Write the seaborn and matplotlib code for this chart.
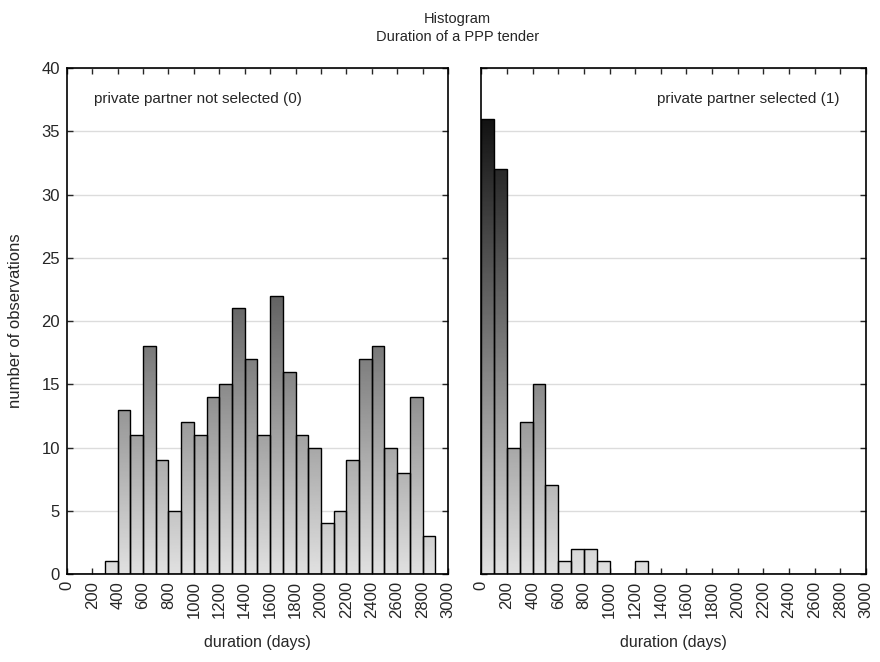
import numpy as np
import pandas as pd
import matplotlib
matplotlib.use("Agg")
import matplotlib.pyplot as plt
import seaborn as sns

# bin edges (days) and counts
bin_edges = list(range(0, 3100, 100))
bin_centers = [e + 50 for e in bin_edges[:-1]]
counts_not_selected = [0, 0, 0, 1, 13, 11, 18, 9, 5, 12, 11, 14, 15, 21, 17,
                       11, 22, 16, 11, 10, 4, 5, 9, 17, 18, 10, 8, 14, 3, 0]
counts_selected = [36, 32, 10, 12, 15, 7, 1, 2, 2, 1, 0, 0, 1, 0, 0,
                   0, 0, 0, 0, 0, 0, 0, 0, 0, 0, 0, 0, 0, 0, 0]
panel_labels = ["private partner not selected (0)", "private partner selected (1)"]
x_ticks = np.arange(0, 3001, 200)
y_ticks = np.arange(0, 41, 5)

sns.set_style("ticks")
plt.rcParams['font.family'] = ['Liberation Sans', 'DejaVu Sans']

fig = plt.figure(figsize=(8.8, 6.62), dpi=100)
ax_left = fig.add_axes([0.076, 0.133, 0.433, 0.764])
ax_right = fig.add_axes([0.547, 0.133, 0.437, 0.764])

# vertical gray gradient: light at the bottom, dark at the top
yy = np.linspace(0, 40, 400).reshape(-1, 1)
grad = np.clip(0.88 - 0.0225 * yy, 0, 1)

for ax, counts, label in zip([ax_left, ax_right],
                             [counts_not_selected, counts_selected], panel_labels):
    df = pd.DataFrame({"duration": bin_centers, "n": counts})
    sns.histplot(data=df, x="duration", weights="n", bins=bin_edges, ax=ax,
                 facecolor="none", edgecolor="black", linewidth=1.0, alpha=1)
    for p in ax.patches:
        p.set_zorder(3)
        if p.get_height() > 0:
            im = ax.imshow(grad, cmap="gray", vmin=0, vmax=1, origin="lower",
                           extent=(0, 3000, 0, 40), aspect="auto", zorder=2,
                           interpolation="bilinear")
            im.set_clip_path(p)
    ax.set_xlim(0, 3000)
    ax.set_ylim(0, 40)
    ax.set_xticks(x_ticks)
    ax.set_yticks(y_ticks)
    ax.set_xticklabels([str(t) for t in x_ticks], rotation=90, fontsize=12)
    ax.grid(axis="y", color="#dcdcdc", linewidth=1.0, zorder=0)
    ax.set_axisbelow(True)
    ax.tick_params(direction="in", top=True, right=True, length=4, width=1,
                   pad=5)
    for s in ax.spines.values():
        s.set_visible(True)
        s.set_linewidth(1.2)
        s.set_color("black")
    ax.set_xlabel("duration (days)", fontsize=11.5, va="center")
    ax.xaxis.set_label_coords(0.5, -0.135)

ax_left.set_ylabel("number of observations", fontsize=12, va="center")
ax_left.yaxis.set_label_coords(-0.135, 0.5)
ax_left.set_yticklabels([str(t) for t in y_ticks], fontsize=12)
ax_right.set_ylabel("")
ax_right.set_yticklabels([])

ax_left.text(0.07, 0.94, panel_labels[0], transform=ax_left.transAxes,
             ha="left", va="center", fontsize=11)
ax_right.text(0.93, 0.94, panel_labels[1], transform=ax_right.transAxes,
              ha="right", va="center", fontsize=11)

fig.text(0.52, 0.982, "Histogram", ha="center", va="top", fontsize=10.5)
fig.text(0.52, 0.955, "Duration of a PPP tender", ha="center", va="top",
         fontsize=10.5)

fig.savefig("out.png", dpi=100)
